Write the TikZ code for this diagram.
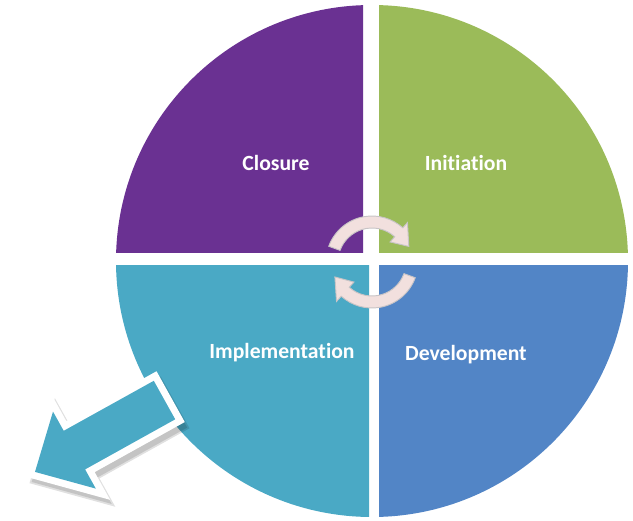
\documentclass[tikz,border=0pt]{standalone}
\usepackage{fontspec}
\setmainfont[Ligatures={NoCommon,NoContextual}]{Carlito}
\definecolor{qpurple}{RGB}{106,49,146}
\definecolor{qgreen}{RGB}{155,187,89}
\definecolor{qteal}{RGB}{74,169,197}
\definecolor{qblue}{RGB}{82,133,198}
\definecolor{arcfill}{RGB}{242,224,222}
\definecolor{arcedge}{RGB}{200,196,198}
\tikzset{
  lbl/.style={text=white, font=\bfseries\fontsize{18.5}{21}\selectfont, inner sep=0pt},
  cyc/.style={fill=arcfill, draw=arcedge, line width=0.8pt, line join=miter},
}
\begin{document}
\begin{tikzpicture}[x=0.03cm, y=-0.03cm]
\useasboundingbox (0,0) rectangle (633,520);
\fill[white] (0,0) rectangle (633,520);
% quadrants
\begin{scope}\clip (0,0) rectangle (363,252);
  \fill[qpurple] (372,261) circle[radius=256];\end{scope}
\begin{scope}\clip (379,0) rectangle (633,252);
  \fill[qgreen] (372,261) circle[radius=256];\end{scope}
\begin{scope}\clip (0,265) rectangle (369,520);
  \fill[qteal] (372,261) circle[radius=256];\end{scope}
\begin{scope}\clip (379,265) rectangle (633,520);
  \fill[qblue] (372,261) circle[radius=256];\end{scope}
% labels
\node[lbl] (closure) at (276,163) {Closure};
\node[lbl] (initiation) at (466,163) {Initiation};
\node[lbl] (implementation) at (282,353) {Implementation};
\node[lbl] (development) at (466,355) {Development};
% cycle arrows
\begin{scope}[shift={(372,262)}]
  \path[cyc] (200:46) arc[start angle=200, end angle=312, radius=46]
     -- (312:53) -- (337:40) -- (312:27) -- (312:34)
     arc[start angle=312, end angle=200, radius=34] -- cycle;
  \path[cyc] (20:46) arc[start angle=20, end angle=132, radius=46]
     -- (132:53) -- (158:40) -- (132:27) -- (132:34)
     arc[start angle=132, end angle=20, radius=34] -- cycle;
\end{scope}
% block arrow
\def\arrowpath{(153.8,380.8) -- (63.7,430.8) -- (53.0,411.6) -- (35,471.9) -- (95.8,488.6) -- (85.1,469.4) -- (175.2,419.3) -- cycle}
\begin{scope}[shift={(4,6)}]
  \draw[black, opacity=0.12, line width=13pt, line join=miter] \arrowpath;
  \draw[black, opacity=0.12, line width=10pt, line join=miter] \arrowpath;
\end{scope}
\draw[white, line width=12pt, line join=miter] \arrowpath;
\fill[qteal] \arrowpath;
\end{tikzpicture}
\end{document}
